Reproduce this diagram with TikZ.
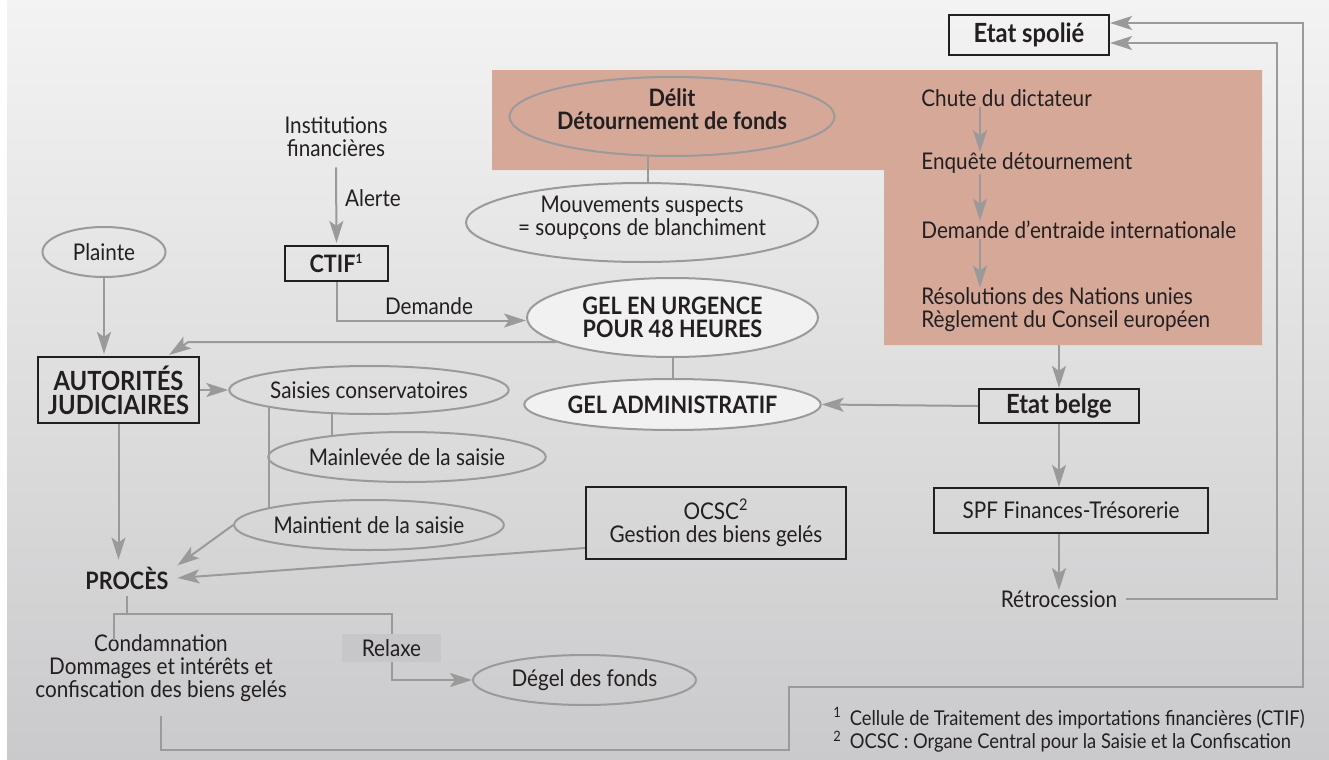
\documentclass[tikz,border=0pt]{standalone}
\usepackage{fontspec}
\setmainfont{Lato}[FakeStretch=0.9]
\usetikzlibrary{arrows.meta,shapes.geometric}
\definecolor{bgtop}{HTML}{F3F3F3}
\definecolor{bgbot}{HTML}{CACACC}
\definecolor{pinkbg}{HTML}{D5A898}
\definecolor{lgray}{HTML}{9A9A9A}
\definecolor{dk}{HTML}{231F20}
\definecolor{ellfill}{HTML}{F1F1F1}
\definecolor{relaxefill}{HTML}{C7C7C9}
\begin{document}
\begin{tikzpicture}[x=0.5pt,y=-0.5pt,
  font=\fontsize{11.5}{11.5}\selectfont, text=dk,
  conn/.style={draw=lgray, line width=1pt},
  arr/.style={conn, -{Stealth[length=11pt,width=7pt,inset=2.5pt]}},
  ell/.style={ellipse, draw=lgray, line width=1pt, inner sep=0pt, align=center},
  box/.style={rectangle, draw=dk, line width=1.1pt, inner sep=0pt, align=center},
  txt/.style={inner sep=0pt, align=center},
  hd/.style={font=\fontsize{12}{11.5}\selectfont\bfseries},
  bighd/.style={font=\fontsize{13.2}{12}\selectfont\bfseries}]
\useasboundingbox (0,0) rectangle (1329,760);
\fill[white] (0,0) rectangle (1329,760);
\shade[top color=bgtop, bottom color=bgbot] (7,0) rectangle (1329,760);
% pink region
\fill[pinkbg] (492,70) -- (1262,70) -- (1262,345) -- (884,345) -- (884,170) -- (492,170) -- cycle;

% nodes
\node[box, bighd, minimum width=80pt, minimum height=20pt] (spolie) at (1029,35) {Etat spolié};
\node[ell, hd, fill=pinkbg, minimum width=146pt, minimum height=39.5pt, text depth=7.5pt] (delit) at (672,116.5) {Délit\\Détournement de fonds};
\node[ell, minimum width=176pt, minimum height=39.5pt, text depth=6.5pt] (mouv) at (642,222.5) {Mouvements suspects\\= soupçons de blanchiment};
\node[txt] (inst) at (336,137) {Institutions\\financières};
\node[txt] (alerte) at (373,198) {Alerte};
\node[ell, minimum width=61.5pt, minimum height=25pt] (plainte) at (104,252) {Plainte};
\node[box, hd, minimum width=51.5pt, minimum height=17.5pt] (ctif) at (336.5,263.5) {CTIF\textsuperscript{\fontsize{6.5}{6.5}\selectfont 1}};
\node[txt] (demande) at (429,306) {Demande};
\node[ell, hd, fill=ellfill, minimum width=145.5pt, minimum height=39.5pt] (gelu) at (672.5,317.5) {GEL EN URGENCE\\POUR 48 HEURES};
\node[box, bighd, minimum width=80.5pt, minimum height=33pt] (autor) at (118.5,390) {AUTORITÉS\\JUDICIAIRES};
\node[ell, minimum width=128pt, minimum height=24pt] (saisies) at (369,390) {Saisies conservatoires};
\node[ell, hd, fill=ellfill, minimum width=145.5pt, minimum height=25.5pt] (gela) at (672.5,404.5) {GEL ADMINISTRATIF};
\node[box, bighd, minimum width=80pt, minimum height=17pt] (belge) at (1059,406) {Etat belge};
\node[ell, minimum width=128pt, minimum height=25pt] (mainlev) at (407,457) {Mainlevée de la saisie};
\node[box, minimum width=130pt, minimum height=36pt] (ocsc) at (716,523) {OCSC\textsuperscript{2}\\Gestion des biens gelés};
\node[box, minimum width=137pt, minimum height=22.5pt] (spf) at (1071,510.5) {SPF Finances-Trésorerie};
\node[ell, minimum width=128pt, minimum height=25pt] (maint) at (369,525) {Maintient de la saisie};
\node[txt, hd, minimum width=50pt, minimum height=18pt] (proces) at (127,578) {PROCÈS};
\node[txt, inner xsep=4pt] (retro) at (1059,599) {Rétrocession};
\node[txt] (condam) at (161,668) {Condamnation\\Dommages et intérêts et\\confiscation des biens gelés};
\node[rectangle, fill=relaxefill, inner sep=0pt, minimum width=49.5pt, minimum height=14pt] (relaxe) at (391.5,648) {Relaxe};
\node[ell, minimum width=111.5pt, minimum height=25pt] (degel) at (584.5,680) {Dégel des fonds};

% pink column texts
\node[txt, anchor=west] (chute) at (921,98) {Chute du dictateur};
\node[txt, anchor=west] (enq) at (921,163) {Enquête détournement};
\node[txt, anchor=west] (entr) at (921,230) {Demande d’entraide internationale};
\node[txt, anchor=west, align=left] (resol) at (921,310) {Résolutions des Nations unies\\Règlement du Conseil européen};

% footnotes
\node[txt, anchor=west, font=\fontsize{10.2}{10}\selectfont] (fn1) at (833,718) {\textsuperscript{1}\hspace{4pt}Cellule de Traitement des importations financières (CTIF)};
\node[txt, anchor=west, font=\fontsize{10.2}{10}\selectfont] (fn2) at (833,742) {\textsuperscript{2}\hspace{4pt}OCSC : Organe Central pour la Saisie et la Confiscation};

% helper coordinates
\coordinate (ax) at (980,0);
\coordinate (lx) at (648,0);
\coordinate (mx) at (332,0);
\coordinate (nx) at (269,0);
\coordinate (pk) at (1059,345);
\coordinate (g1) at (188,342);
\coordinate (b1) at (789,750);
\coordinate (b2) at (1303,687);
\coordinate (r1) at (1277,0);
\coordinate (sp1) at ([yshift=6pt]spolie.east);
\coordinate (sp2) at ([yshift=-4pt]spolie.east);

% connectors
\draw[arr] (chute.south -| ax) -- (enq.north -| ax);
\draw[arr] (enq.south -| ax) -- (entr.north -| ax);
\draw[arr] (entr.south -| ax) -- (resol.north -| ax);
\draw[arr] (pk) -- (belge.north);
\draw[conn] (delit.south -| lx) -- (mouv.north -| lx);
\draw[arr] ([yshift=-5pt]inst.south) -- ([yshift=1pt]ctif.north);
\draw[arr] (plainte.south) -- ([yshift=1pt]plainte.south |- autor.north);
\draw[arr] (ctif.south) |- ([yshift=-1.5pt]gelu.west);
\draw[arr] (gelu.192) -- (gelu.192 -| g1) -- ([xshift=-15.5pt,yshift=0.5pt]autor.north east);
\draw[conn] (gelu.south) -- (gela.north);
\draw[arr] (belge.west) -- (gela.east);
\draw[arr] (belge.south) -- (belge.south |- spf.north);
\draw[arr] (belge.south |- spf.south) -- (retro.north);
\draw[arr] (autor.east) -- (saisies.west);
\draw[conn] (mx |- saisies.212) -- (mx |- mainlev.165);
\draw[conn] (nx |- saisies.188.5) -- (nx |- maint.171);
\draw[arr] (maint.west) -- (proces.14);
\draw[arr] ([yshift=-12.5pt]ocsc.west) -- (proces.east);
\draw[arr] (autor.south) -- (autor.south |- proces.north);
\draw[conn] (proces.south) -- ++(0,18) coordinate (pj);
\draw[conn] ([xshift=-23.5pt,yshift=-3pt]condam.north) |- (pj) -| (relaxe.north);
\draw[arr] (relaxe.south) |- (degel.west);
\draw[arr] ([yshift=-7pt]condam.south) |- (b1) |- (b2) |- (sp1);
\draw[arr] (retro.east) -| (sp2 -| r1) -- (sp2);
\end{tikzpicture}
\end{document}
